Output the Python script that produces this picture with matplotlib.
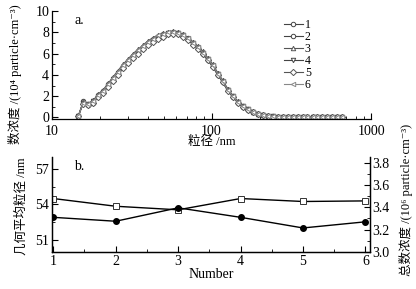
import matplotlib
matplotlib.use("Agg")
import matplotlib.pyplot as plt
from matplotlib.ticker import MultipleLocator, LogLocator, NullFormatter

plt.rcParams['font.family'] = ['Liberation Serif', 'Noto Sans CJK SC', 'DejaVu Serif']
plt.rcParams['axes.linewidth'] = 0.9

# particle size channels (nm)
diam = [14.6, 15.7, 16.8, 18.1, 19.5, 20.9, 22.5, 24.1, 25.9, 27.9, 30.0, 32.2,
        34.6, 37.2, 40.0, 43.0, 46.1, 49.6, 53.3, 57.3, 61.5, 66.1, 71.0, 76.4,
        82.0, 88.2, 94.7, 101.8, 109.4, 117.6, 126.3, 135.8, 145.9, 156.8, 168.5,
        181.1, 194.6, 209.1, 224.7, 241.4, 259.5, 278.8, 299.6, 322.0, 346.0,
        371.8, 399.5, 429.4, 461.4, 495.8, 532.8, 572.5, 615.3, 661.2]

conc1 = [0.1, 1.5, 1.3, 1.5, 2.1, 2.5, 3.1, 3.6, 4.2, 4.8, 5.3, 5.8, 6.2, 6.6, 7.0,
         7.3, 7.6, 7.8, 7.95, 8.0, 7.95, 7.75, 7.45, 7.0, 6.6, 6.1, 5.5, 4.9, 4.1, 3.4,
         2.6, 2.0, 1.45, 1.05, 0.75, 0.5, 0.35, 0.22, 0.15, 0.1, 0.07, 0.05, 0.04, 0.03,
         0.03, 0.02, 0.02, 0.02, 0.01, 0.01, 0.01, 0.01, 0.01, 0.01]
conc2 = [0.1, 1.4, 1.2, 1.4, 2.0, 2.4, 3.0, 3.5, 4.1, 4.7, 5.2, 5.7, 6.1, 6.5, 6.9,
         7.2, 7.5, 7.7, 7.85, 7.9, 7.85, 7.65, 7.35, 6.9, 6.5, 6.0, 5.4, 4.8, 4.0, 3.3,
         2.55, 1.95, 1.4, 1.0, 0.72, 0.48, 0.33, 0.21, 0.14, 0.09, 0.06, 0.05, 0.04, 0.03,
         0.02, 0.02, 0.02, 0.01, 0.01, 0.01, 0.01, 0.01, 0.01, 0.01]
conc3 = [0.1, 1.5, 1.3, 1.6, 2.2, 2.6, 3.2, 3.8, 4.4, 5.0, 5.5, 6.0, 6.4, 6.8, 7.2,
         7.5, 7.75, 7.9, 8.05, 8.1, 8.0, 7.8, 7.5, 7.1, 6.7, 6.2, 5.6, 5.0, 4.2, 3.5,
         2.7, 2.05, 1.5, 1.1, 0.78, 0.52, 0.36, 0.23, 0.16, 0.1, 0.07, 0.05, 0.04, 0.03,
         0.03, 0.02, 0.02, 0.02, 0.01, 0.01, 0.01, 0.01, 0.01, 0.01]
conc4 = [0.1, 1.4, 1.3, 1.5, 2.0, 2.4, 3.0, 3.6, 4.2, 4.7, 5.2, 5.7, 6.1, 6.5, 6.9,
         7.25, 7.55, 7.75, 7.9, 7.95, 7.9, 7.7, 7.4, 6.95, 6.55, 6.05, 5.45, 4.85, 4.05, 3.35,
         2.6, 2.0, 1.45, 1.05, 0.75, 0.5, 0.34, 0.22, 0.15, 0.1, 0.07, 0.05, 0.04, 0.03,
         0.03, 0.02, 0.02, 0.02, 0.01, 0.01, 0.01, 0.01, 0.01, 0.01]
conc5 = [0.1, 1.3, 1.2, 1.4, 1.9, 2.3, 2.9, 3.4, 4.0, 4.6, 5.1, 5.6, 6.0, 6.4, 6.8,
         7.1, 7.4, 7.6, 7.8, 7.85, 7.8, 7.6, 7.3, 6.85, 6.45, 5.95, 5.35, 4.75, 4.0, 3.3,
         2.5, 1.9, 1.4, 1.0, 0.7, 0.47, 0.32, 0.2, 0.14, 0.09, 0.06, 0.05, 0.04, 0.03,
         0.02, 0.02, 0.02, 0.01, 0.01, 0.01, 0.01, 0.01, 0.01, 0.01]
conc6 = [0.1, 1.4, 1.3, 1.5, 2.1, 2.5, 3.1, 3.7, 4.3, 4.9, 5.4, 5.9, 6.3, 6.7, 7.1,
         7.4, 7.7, 7.85, 8.0, 8.05, 7.95, 7.75, 7.45, 7.0, 6.6, 6.1, 5.5, 4.9, 4.1, 3.4,
         2.6, 2.0, 1.45, 1.05, 0.75, 0.5, 0.35, 0.22, 0.15, 0.1, 0.07, 0.05, 0.04, 0.03,
         0.03, 0.02, 0.02, 0.02, 0.01, 0.01, 0.01, 0.01, 0.01, 0.01]

series = [conc1, conc2, conc3, conc4, conc5, conc6]
labels = ['1', '2', '3', '4', '5', '6']
markers = ['o', 'o', '^', 'v', 'D', '<']
colors = ['#444444', '#444444', '#555555', '#444444', '#555555', '#888888']

# panel b
number = [1, 2, 3, 4, 5, 6]
gmd = [54.5, 53.85, 53.55, 54.5, 54.25, 54.3]          # nm
total_conc = [3.31, 3.275, 3.395, 3.31, 3.215, 3.27]   # 10^6 particle/cm3

fig = plt.figure(figsize=(4.16, 2.89), dpi=100)

ax1 = fig.add_axes([0.125, 0.588, 0.767, 0.374])
for y, lab, m, c in zip(series, labels, markers, colors):
    ax1.plot(diam, y, color=c, lw=0.8, marker=m, ms=3.2, mfc='white',
             mec=c, mew=0.7, label=lab)
ax1.set_xscale('log')
ax1.set_xlim(10, 1000)
ax1.set_ylim(-0.15, 10)
ax1.set_yticks([0, 2, 4, 6, 8, 10])
ax1.yaxis.set_minor_locator(MultipleLocator(1))
ax1.xaxis.set_minor_locator(LogLocator(base=10, subs=range(2, 10)))
ax1.xaxis.set_minor_formatter(NullFormatter())
ax1.set_xticks([10, 100, 1000])
ax1.set_xticklabels(['10', '100', '1000'])
ax1.spines['top'].set_visible(False)
ax1.spines['right'].set_visible(False)
ax1.tick_params(which='both', direction='in', labelsize=10, pad=2)
ax1.tick_params(axis='x', pad=4)
ax1.tick_params(which='major', length=4)
ax1.tick_params(which='minor', length=2.5)
ax1.set_xlabel('粒径 /nm', fontsize=9, labelpad=-1)
ax1.text(0.07, 0.97, 'a.', transform=ax1.transAxes, fontsize=10, va='top')
ax1.legend(loc='upper left', bbox_to_anchor=(0.70, 1.0), frameon=False,
           fontsize=8.5, labelspacing=0.0, handlelength=1.6, handletextpad=0.2,
           borderpad=0.2)

ax2 = fig.add_axes([0.125, 0.128, 0.764, 0.329])
ax2.plot(number, gmd, color='black', lw=1.0, marker='s', ms=3.8, mfc='white',
         mec='#333333', mew=0.7)
ax2.set_xlim(0.98, 6.07)
ax2.set_ylim(50, 58)
ax2.set_yticks([51, 54, 57])
ax2.yaxis.set_minor_locator(MultipleLocator(1.5))
ax2.xaxis.set_minor_locator(MultipleLocator(0.5))
ax2.set_xticks(number)
ax2.spines['top'].set_visible(False)
ax2.tick_params(which='both', direction='in', labelsize=10, pad=2)
ax2.tick_params(which='major', length=4)
ax2.tick_params(which='minor', length=2.5)
ax2.set_xlabel('Number', fontsize=10, labelpad=0)
ax2.text(0.07, 0.97, 'b.', transform=ax2.transAxes, fontsize=10, va='top')

ax3 = ax2.twinx()
ax3.plot(number, total_conc, color='black', lw=1.0, marker='o', ms=4,
         mfc='black', mec='black')
ax3.set_ylim(3.0, 3.85)
ax3.set_yticks([3.0, 3.2, 3.4, 3.6, 3.8])
ax3.set_yticklabels(['3.0', '3.2', '3.4', '3.6', '3.8'])
ax3.yaxis.set_minor_locator(MultipleLocator(0.1))
ax3.spines['top'].set_visible(False)
ax3.tick_params(which='both', direction='in', labelsize=10, pad=2)
ax3.tick_params(which='major', length=4)
ax3.tick_params(which='minor', length=2.5)

# y axis titles placed as in the source figure
fig.text(15 / 416, 1 - 74 / 289, '数浓度 /(10⁴ particle·cm⁻³)', rotation=90,
         fontsize=9, ha='center', va='center')
fig.text(21 / 416, 1 - 206 / 289, '几何平均粒径 /nm', rotation=90,
         fontsize=9, ha='center', va='center')
fig.text(406 / 416, 1 - 200 / 289, '总数浓度 /(10⁶ particle·cm⁻³)', rotation=90,
         fontsize=9, ha='center', va='center')

fig.savefig('out.png', dpi=100)
